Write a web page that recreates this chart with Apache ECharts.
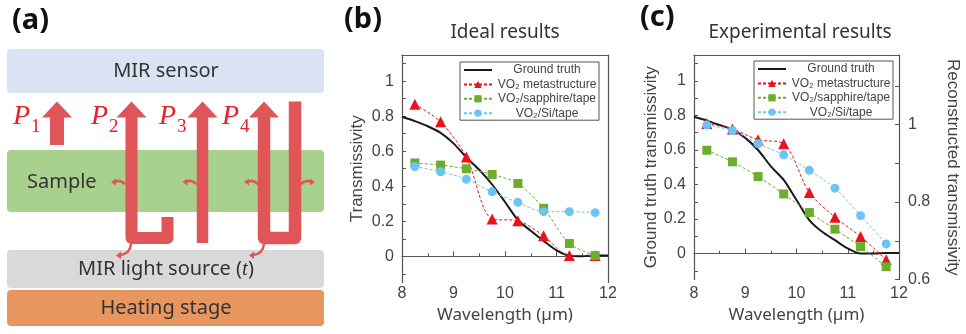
<!DOCTYPE html>
<html>
<head>
<meta charset="utf-8">
<script src="https://cdn.jsdelivr.net/npm/echarts@6/dist/echarts.min.js"></script>
<style>
html, body { margin: 0; padding: 0; background: #fff; }
#main { width: 966px; height: 334px; }
</style>
</head>
<body>
<div id="main"></div>
<script>
var chart = echarts.init(document.getElementById('main'));

// sample wavelengths (um)
var wavelengths = [8.25, 8.75, 9.25, 9.75, 10.25, 10.75, 11.25, 11.75];
var truthWl = [8, 8.25, 8.5, 8.75, 9, 9.25, 9.5, 9.75, 10, 10.25, 10.5, 10.75, 11, 11.25, 11.5, 11.75, 12];

// (b) ideal results
var truthB = [0.797, 0.772, 0.743, 0.705, 0.645, 0.565, 0.494, 0.41, 0.31, 0.207, 0.146, 0.088, 0.034, 0.004, 0.0, 0.005, 0.005];
var metaB = [0.868, 0.768, 0.567, 0.213, 0.203, 0.117, 0.004, 0.004];
var sapphireB = [0.533, 0.521, 0.50, 0.467, 0.416, 0.274, 0.073, 0.004];
var siB = [0.513, 0.483, 0.44, 0.368, 0.308, 0.255, 0.255, 0.249];

// (c) experimental results, reconstructed values on right axis
var truthC = [0.792, 0.77, 0.745, 0.718, 0.67, 0.60, 0.505, 0.427, 0.31, 0.194, 0.126, 0.078, 0.03, 0.0, 0.0, 0.003, 0.003];
var metaC = [1.003, 0.989, 0.961, 0.951, 0.825, 0.761, 0.711, 0.651];
var sapphireC = [0.934, 0.904, 0.866, 0.821, 0.773, 0.730, 0.685, 0.633];
var siC = [0.999, 0.985, 0.951, 0.922, 0.882, 0.836, 0.765, 0.692];

var seriesNames = ['Ground truth', 'VO\u2082 metastructure', 'VO\u2082/sapphire/tape', 'VO\u2082/Si/tape'];

var RED = '#e8131b', GREEN = '#6cad2e', BLUE = '#6cc4f4';
var AXIS = '#555', LABEL = '#444';
var ARROW = '#e05558';

function pairs(xs, ys) {
    return xs.map(function (x, i) { return [x, ys[i]]; });
}

// labels only on multiples of 0.2
function evenLabel(v) {
    var r = Math.round(v * 10);
    if (r % 2 !== 0 || r < 0 || r > 10) return '';
    return String(r / 10);
}
function rightLabel(v) {
    var r = Math.round(v * 10);
    if (r % 2 !== 0 || r < 6 || r > 10) return '';
    return String(r / 10);
}

function xBottom(grid, margin, nameGap) {
    return {
        type: 'value', gridIndex: grid, min: 8, max: 12, interval: 1,
        name: 'Wavelength (\u00b5m)', nameLocation: 'middle', nameGap: nameGap,
        nameTextStyle: { fontFamily: 'Noto Sans', fontSize: 17, color: LABEL },
        axisLine: { show: true, lineStyle: { color: AXIS, width: 1.2 } },
        axisTick: { show: true, inside: true, length: 5, lineStyle: { color: AXIS } },
        minorTick: { show: true, splitNumber: 2, length: 3, lineStyle: { color: AXIS } },
        axisLabel: { margin: margin, fontFamily: 'Liberation Sans', fontSize: 16, color: LABEL },
        splitLine: { show: false }
    };
}
function frameAxis(grid, pos) {
    return {
        type: 'value', gridIndex: grid, position: pos, min: 0, max: 1,
        axisLine: { show: true, onZero: false, lineStyle: { color: AXIS, width: 1.2 } },
        axisTick: { show: false }, axisLabel: { show: false }, splitLine: { show: false }
    };
}
function yLeft(grid, name, nameGap) {
    return {
        type: 'value', gridIndex: grid, min: -0.15, max: 1.15, splitNumber: 13,
        name: name, nameLocation: 'middle', nameGap: nameGap,
        nameTextStyle: { fontFamily: 'Liberation Sans', fontSize: 17, color: LABEL },
        axisLine: { show: true, onZero: false, lineStyle: { color: AXIS, width: 1.2 } },
        axisTick: { show: true, inside: true, length: 4, lineStyle: { color: AXIS } },
        axisLabel: { margin: 8, fontFamily: 'Liberation Sans', fontSize: 16, color: LABEL, formatter: evenLabel, showMinLabel: false, showMaxLabel: false },
        splitLine: { show: false }
    };
}

function legendAt(left, top) {
    return {
        orient: 'vertical', left: left, top: top, padding: [2, 2, 1, 3],
        itemWidth: 28, itemHeight: 9, itemGap: 2.4,
        backgroundColor: '#fff', borderColor: AXIS, borderWidth: 1,
        selectedMode: false,
        // ground truth shows only its line, no marker
        data: [{ name: seriesNames[0], itemStyle: { opacity: 0 } }, seriesNames[1], seriesNames[2], seriesNames[3]],
        formatter: function (n) { return '{c|' + n + '}'; },
        textStyle: {
            rich: { c: { width: 100, align: 'center', fontFamily: 'Liberation Sans', fontSize: 12, color: LABEL, lineHeight: 14 } }
        }
    };
}

function truthSeries(xi, yi, ys) {
    return {
        name: seriesNames[0], type: 'line', xAxisIndex: xi, yAxisIndex: yi,
        symbol: 'none', smooth: 0.3, z: 3,
        lineStyle: { color: '#1a1a1a', width: 2 }, itemStyle: { color: '#1a1a1a' },
        data: pairs(truthWl, ys)
    };
}
function pointSeries(idx, xi, yi, ys, color, symbol, size) {
    return {
        name: seriesNames[idx], type: 'line', xAxisIndex: xi, yAxisIndex: yi,
        symbol: symbol, symbolSize: size, showSymbol: true, smooth: 0.3, z: 4,
        lineStyle: { color: color, width: 1, type: [3, 2] },
        itemStyle: { color: color },
        data: pairs(wavelengths, ys)
    };
}

// ---- schematic (a) ----
function box(y, h, fill) {
    return { type: 'rect', shape: { x: 7, y: y, width: 317, height: h, r: 4 }, style: { fill: fill }, z: 1 };
}
function label(x, y, text, font, fill, align) {
    return { type: 'text', x: x, y: y, z: 5,
        style: { text: text, font: font, fill: fill || '#333', align: align || 'center', verticalAlign: 'middle',
                 textAlign: align || 'center', textVerticalAlign: 'middle' } };
}
function head(cx, half) {
    return { type: 'polygon', z: 3, shape: { points: [[cx - half, 117.5], [cx, 101.5], [cx + half, 117.5]] }, style: { fill: ARROW } };
}
function shaft(points, w) {
    return { type: 'polyline', z: 3, shape: { points: points },
        style: { stroke: ARROW, lineWidth: w, fill: null, lineJoin: 'round' } };
}
function curl(x0, y0, dir) {
    return [
        { type: 'bezierCurve', z: 3, shape: { x1: x0, y1: y0 + 2, cpx1: x0 + dir * 5, cpy1: y0 - 3, x2: x0 + dir * 10, y2: y0 },
          style: { stroke: ARROW, lineWidth: 2.5, fill: null } },
        { type: 'polygon', z: 3, shape: { points: [[x0 + dir * 9, y0 - 3.5], [x0 + dir * 14, y0], [x0 + dir * 9, y0 + 3.5]] }, style: { fill: ARROW } }
    ];
}
function downCurl(x0, y0) {
    return [
        { type: 'bezierCurve', z: 3, shape: { x1: x0, y1: y0, cpx1: x0 - 1, cpy1: y0 + 10, x2: x0 - 11, y2: y0 + 11 },
          style: { stroke: ARROW, lineWidth: 2.5, fill: null } },
        { type: 'polygon', z: 3, shape: { points: [[x0 - 10, y0 + 7.5], [x0 - 15, y0 + 11.5], [x0 - 10, y0 + 15]] }, style: { fill: ARROW } }
    ];
}
function pLabel(x, n) {
    return [
        label(x, 117, 'P', 'italic 28px "Liberation Serif"', '#e8202a', 'left'),
        label(x + 18, 127, n, '19px "Liberation Serif"', '#e8202a', 'left')
    ];
}

var FONT = '"Noto Sans"';
var graphics = [
    box(49, 44, '#dae3f3'),
    box(150, 62, '#a9d18e'),
    box(250, 38, '#d9d9d9'),
    box(290, 36, '#e8965f'),
    label(12, 21, '(a)', 'bold 29px ' + FONT, '#111', 'left'),
    label(344, 20, '(b)', 'bold 29px ' + FONT, '#111', 'left'),
    label(640, 18, '(c)', 'bold 29px ' + FONT, '#111', 'left'),
    label(505, 33, 'Ideal results', '19px ' + FONT, '#333'),
    label(800, 33, 'Experimental results', '19px ' + FONT, '#333'),
    label(166, 71, 'MIR sensor', '20px ' + FONT),
    label(27, 182, 'Sample', '20px ' + FONT, '#333', 'left'),
    { type: 'text', x: 166, y: 269, z: 5,
      style: { text: '{n|MIR light source (}{t|t}{n|)}', align: 'center', verticalAlign: 'middle',
               textAlign: 'center', textVerticalAlign: 'middle',
               rich: { n: { fontFamily: 'Noto Sans', fontSize: 20, fill: '#333', color: '#333' },
                       t: { fontFamily: 'Liberation Serif', fontStyle: 'italic', fontSize: 21, fill: '#333', color: '#333' } } } },
    label(166, 308, 'Heating stage', '20px ' + FONT),
    // P1
    { type: 'polygon', z: 3, shape: { points: [[50, 145], [50, 117.5], [42, 117.5], [57, 101.5], [72, 117.5], [64, 117.5], [64, 145]] }, style: { fill: ARROW } },
    // P2
    shaft([[131.5, 117], [131.5, 238], [167.5, 238], [167.5, 217]], 12), head(131.5, 15),
    // P3
    shaft([[202.5, 117], [202.5, 243]], 11.5), head(202.5, 15),
    // P4
    shaft([[264, 117], [264, 238], [295, 238], [295, 101.5]], 12.5), head(264, 15)
];
graphics = graphics
    .concat(curl(125, 182, -1), curl(196.5, 182, -1), curl(258, 182, -1), curl(301, 182, 1))
    .concat(downCurl(131, 244), downCurl(264, 244))
    .concat(pLabel(13, '1'), pLabel(91, '2'), pLabel(159, '3'), pLabel(222, '4'));

var option = {
    animation: false,
    backgroundColor: '#fff',
    graphic: graphics,
    legend: [legendAt(460, 62), legendAt(754, 61)],
    grid: [
        { left: 402, top: 55, width: 206, height: 227.5 },
        { left: 694, top: 55, width: 205, height: 224.5 }
    ],
    xAxis: [
        xBottom(0, 3, 23),
        frameAxis(0, 'top'),
        xBottom(1, 6, 26),
        frameAxis(1, 'top')
    ],
    yAxis: [
        yLeft(0, 'Transmissivity', 36),
        frameAxis(0, 'right'),
        yLeft(1, 'Ground truth transmissivity', 33),
        {
            type: 'value', gridIndex: 1, position: 'right', min: 0.6, max: 1.18, interval: 0.1,
            name: 'Reconstructed transmissivity', nameLocation: 'middle', nameGap: 45, nameRotate: -90,
            nameTextStyle: { fontFamily: 'Liberation Sans', fontSize: 17, color: LABEL },
            axisLine: { show: true, onZero: false, lineStyle: { color: AXIS, width: 1.2 } },
            axisTick: { show: true, inside: true, length: 4, lineStyle: { color: AXIS } },
            axisLabel: { margin: 9, fontFamily: 'Liberation Sans', fontSize: 16, color: LABEL, formatter: rightLabel, showMaxLabel: false },
            splitLine: { show: false }
        }
    ],
    series: [
        truthSeries(0, 0, truthB),
        pointSeries(1, 0, 0, metaB, RED, 'triangle', 11),
        pointSeries(2, 0, 0, sapphireB, GREEN, 'rect', 9),
        pointSeries(3, 0, 0, siB, BLUE, 'circle', 9),
        truthSeries(2, 2, truthC),
        pointSeries(1, 2, 3, metaC, RED, 'triangle', 11),
        pointSeries(2, 2, 3, sapphireC, GREEN, 'rect', 9),
        pointSeries(3, 2, 3, siC, BLUE, 'circle', 9)
    ]
};

chart.setOption(option);
</script>
</body>
</html>
